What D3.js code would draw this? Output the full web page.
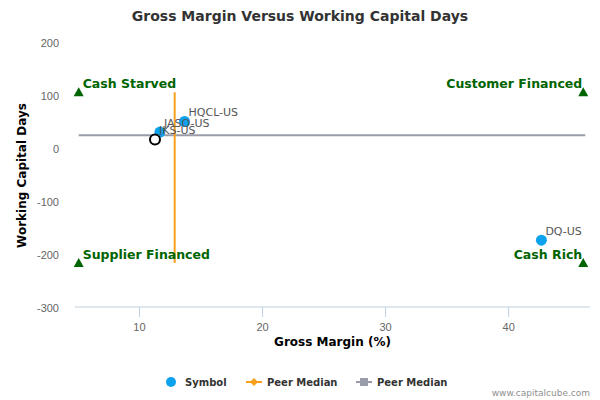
<!DOCTYPE html>
<html>
<head>
<meta charset="utf-8">
<script src="https://cdn.jsdelivr.net/npm/d3@7"></script>
<style>
  body { margin: 0; background: #fff; }
  svg { display: block; font-family: "DejaVu Sans", sans-serif; }
</style>
</head>
<body>
<div id="chart"></div>
<script>
// data
var symbols = ['HQCL-US', 'JASO-US', 'JKS-US', 'DQ-US'];
var grossMargin = [13.7, 11.7, 11.3, 42.7];
var wcDays = [52, 32, 18, -172];
var subject = 'JKS-US';

var medianGM = 12.9;
var medianWCD = 26;

var quadrantNames = ['Cash Starved', 'Customer Financed', 'Supplier Financed', 'Cash Rich'];
var quadrantX = [5.1, 46.1, 5.1, 46.1];
var quadrantY = [107, 107, -215, -215];

var xTicks = [10, 20, 30, 40];
var yTicks = [200, 100, 0, -100, -200, -300];

var width = 600,
    height = 400,
    plotLeft = 75,
    plotRight = 590,
    plotTop = 43,
    plotBottom = 308
;

var x = d3.scaleLinear().domain([4.8, 46.65]).range([plotLeft, plotRight]);
var y = d3.scaleLinear().domain([-300, 200]).range([plotBottom, plotTop]);

var svg = d3.select('#chart')
  .append('svg')
    .attr('width', width)
    .attr('height', height);

// title
svg.append('text')
  .attr('x', 300)
  .attr('y', 21)
  .attr('text-anchor', 'middle')
  .style('font-size', '14px')
  .style('font-weight', 'bold')
  .style('fill', '#333')
  .text('Gross Margin Versus Working Capital Days');

// x axis
var xAxis = svg.append('g')
  .attr('transform', 'translate(0,' + (plotBottom - 1) + ')')
  .call(d3.axisBottom(x).tickValues(xTicks).tickSize(10).tickPadding(6));
xAxis.select('.domain').attr('stroke', '#C0D0E0').attr('d', 'M' + plotLeft + ',0H' + plotRight);
xAxis.selectAll('.tick line').attr('stroke', '#C0D0E0');
xAxis.selectAll('.tick text').attr('fill', '#666').style('font-size', '11px');

// y axis (labels only)
var yAxis = svg.append('g')
  .attr('transform', 'translate(' + (plotLeft - 8) + ',0)')
  .call(d3.axisLeft(y).tickValues(yTicks).tickSize(0).tickPadding(8)
    .tickFormat(function(d) { return String(d); }));
yAxis.select('.domain').remove();
yAxis.selectAll('.tick text').attr('fill', '#666').style('font-size', '11px');

// axis titles
svg.append('text')
  .attr('x', (plotLeft + plotRight) / 2)
  .attr('y', 346)
  .attr('text-anchor', 'middle')
  .style('font-size', '12px')
  .style('font-weight', 'bold')
  .style('fill', '#000')
  .text('Gross Margin (%)');

svg.append('text')
  .attr('transform', 'translate(26,' + ((plotTop + plotBottom) / 2) + ') rotate(-90)')
  .attr('text-anchor', 'middle')
  .style('font-size', '12px')
  .style('font-weight', 'bold')
  .style('fill', '#000')
  .text('Working Capital Days');

// median lines
svg.append('line')
  .attr('x1', x(quadrantX[0])).attr('x2', x(quadrantX[1]) + 2)
  .attr('y1', y(medianWCD)).attr('y2', y(medianWCD))
  .attr('stroke', '#989DA9')
  .attr('stroke-width', 2);

svg.append('line')
  .attr('x1', x(medianGM)).attr('x2', x(medianGM))
  .attr('y1', y(quadrantY[0])).attr('y2', y(quadrantY[2]))
  .attr('stroke', '#F9A11B')
  .attr('stroke-width', 2);

// quadrant markers
var quads = svg.selectAll('g.quad')
  .data(quadrantNames)
  .enter()
    .append('g')
    .attr('class', 'quad')
    .attr('transform', function(d, i)
    {
      return 'translate(' + x(quadrantX[i]) + ',' + y(quadrantY[i]) + ')';
    });

quads.append('path')
  .attr('d', 'M0,-5L5,4L-5,4Z')
  .attr('fill', '#006400');

quads.append('text')
  .attr('x', function(d, i) { return i % 2 === 0 ? 4 : -1; })
  .attr('y', -4)
  .attr('text-anchor', function(d, i) { return i % 2 === 0 ? 'start' : 'end'; })
  .style('font-size', '12.5px')
  .style('font-weight', 'bold')
  .style('fill', '#006400')
  .text(function(d) { return d; });

// company points
var pts = svg.selectAll('g.pt')
  .data(symbols)
  .enter()
    .append('g')
    .attr('class', 'pt')
    .attr('transform', function(d, i)
    {
      return 'translate(' + x(grossMargin[i]) + ',' + y(wcDays[i]) + ')';
    });

pts.append('circle')
  .attr('r', function(d) { return d === subject ? 5 : 5.5; })
  .attr('fill', function(d) { return d === subject ? '#fff' : '#0DA2EE'; })
  .attr('stroke', function(d) { return d === subject ? '#000' : 'none'; })
  .attr('stroke-width', 2);

pts.append('text')
  .attr('x', 4)
  .attr('y', -5)
  .style('font-size', '11px')
  .style('fill', '#555')
  .text(function(d) { return d; });

// legend
var legend = svg.append('g').attr('transform', 'translate(0,382)');

legend.append('circle')
  .attr('cx', 171).attr('cy', 0).attr('r', 5)
  .attr('fill', '#0DA2EE');
legend.append('text')
  .attr('x', 185).attr('y', 4)
  .style('font-size', '10px').style('font-weight', 'bold').style('fill', '#333')
  .text('Symbol');

legend.append('line')
  .attr('x1', 246).attr('x2', 262).attr('y1', 0).attr('y2', 0)
  .attr('stroke', '#F9A11B').attr('stroke-width', 2);
legend.append('path')
  .attr('d', 'M254,-4L258,0L254,4L250,0Z')
  .attr('fill', '#F9A11B');
legend.append('text')
  .attr('x', 267).attr('y', 4)
  .style('font-size', '10px').style('font-weight', 'bold').style('fill', '#333')
  .text('Peer Median');

legend.append('line')
  .attr('x1', 356).attr('x2', 372).attr('y1', 0).attr('y2', 0)
  .attr('stroke', '#989DA9').attr('stroke-width', 2);
legend.append('rect')
  .attr('x', 360).attr('y', -4).attr('width', 8).attr('height', 8)
  .attr('fill', '#989DA9');
legend.append('text')
  .attr('x', 377).attr('y', 4)
  .style('font-size', '10px').style('font-weight', 'bold').style('fill', '#333')
  .text('Peer Median');

// credit
svg.append('text')
  .attr('x', 590)
  .attr('y', 396)
  .attr('text-anchor', 'end')
  .style('font-size', '9px')
  .style('fill', '#909090')
  .text('www.capitalcube.com');
</script>
</body>
</html>
